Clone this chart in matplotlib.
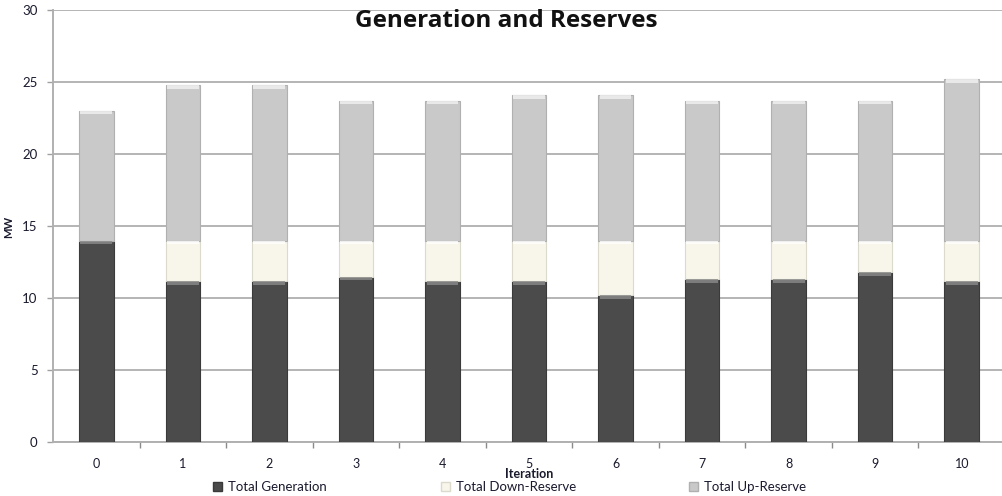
import matplotlib
matplotlib.use("Agg")
import matplotlib.pyplot as plt
from matplotlib.patches import Patch
import numpy as np

plt.rcParams['font.family'] = ['Lato', 'DejaVu Sans']

# Generation and reserve totals per iteration
iterations = [0, 1, 2, 3, 4, 5, 6, 7, 8, 9, 10]
total_generation = [14.0, 11.2, 11.2, 11.5, 11.2, 11.2, 10.2, 11.3, 11.3, 11.8, 11.2]
total_down_reserve = [0.0, 2.8, 2.8, 2.5, 2.8, 2.8, 3.8, 2.7, 2.7, 2.2, 2.8]
total_up_reserve = [9.0, 10.8, 10.8, 9.7, 9.7, 10.1, 10.1, 9.7, 9.7, 9.7, 11.2]
series_names = ["Total Generation", "Total Down-Reserve", "Total Up-Reserve"]
y_ticks = [0, 5, 10, 15, 20, 25, 30]

colors = ["#4b4b4b", "#f8f6ea", "#c9c9c9"]
edge_colors = ["#3a3a3a", "#dcdacd", "#b0b0b0"]
bevel_colors = ["#8a8a8a", "#ffffff", "#f2f2f2"]
text_color = '#1a1a2e'

fig = plt.figure(figsize=(10.02, 4.96), dpi=100)
ax = fig.add_axes([53 / 1002, 1 - 442.3 / 496, (1005 - 53) / 1002, (442.3 - 10) / 496])

x = np.arange(len(iterations))
width = 0.4
bottom = np.zeros(len(x))
series = [total_generation, total_down_reserve, total_up_reserve]
for vals, c, ec, bc in zip(series, colors, edge_colors, bevel_colors):
    vals = np.array(vals)
    ax.bar(x, vals, width, bottom=bottom, color=c, edgecolor=ec, linewidth=0.8, zorder=3)
    # light bevel strip along the top of each segment
    top = bottom + vals
    has = vals > 0
    strip = np.minimum(0.25, vals[has])
    ax.bar(x[has], strip, width * 0.92, bottom=top[has] - strip,
           color=bc, linewidth=0, zorder=4, alpha=0.8)
    bottom = top

ax.set_xlim(-0.5, 10.5)
ax.set_ylim(0, 30)
ax.set_yticks(y_ticks)
ax.set_yticklabels([str(t) for t in y_ticks])
ax.grid(axis='y', color='#b4b4b4', linewidth=1.4, zorder=0)
ax.set_axisbelow(True)

ax.set_xticks(x)
ax.set_xticklabels([str(i) for i in iterations])
ax.set_xticks(np.arange(0.5, 10.5, 1.0), minor=True)
ax.tick_params(axis='x', which='major', length=0, pad=11, labelsize=9, colors=text_color)
ax.tick_params(axis='x', which='minor', length=4, width=1, color='#8a8a8a')
ax.tick_params(axis='y', length=4, width=1, color='#a0a0a0', labelsize=9.5, labelcolor=text_color, pad=7)

for s in ['top', 'right']:
    ax.spines[s].set_visible(False)
for s in ['left', 'bottom']:
    ax.spines[s].set_color('#b0b0b0')
    ax.spines[s].set_linewidth(1.4)

fig.text(506 / 1002, 1 - 21 / 496, "Generation and Reserves", ha='center', va='center',
         fontsize=17.5, fontweight='bold', color='#111111', family=['Open Sans', 'DejaVu Sans'])
fig.text(529 / 1002, 1 - 474 / 496, "Iteration", ha='center', va='center',
         fontsize=9, fontweight='bold', color=text_color)
fig.text(9 / 1002, 1 - 227 / 496, "MW", rotation=90, ha='center', va='center',
         fontsize=8, fontweight='bold', color=text_color)

# one legend entry per series, spaced across the bottom
legend_x = [213, 441, 689]
for name, c, ec, lx in zip(series_names, colors, edge_colors, legend_x):
    fig.legend([Patch(facecolor=c, edgecolor=ec)], [name], loc='center left',
               bbox_to_anchor=(lx / 1002, 1 - 487 / 496), frameon=False, fontsize=9.5,
               handlelength=0.7, handleheight=0.7, handletextpad=0.4,
               borderpad=0, borderaxespad=0, labelcolor=text_color)

fig.savefig("out.png", dpi=100)
